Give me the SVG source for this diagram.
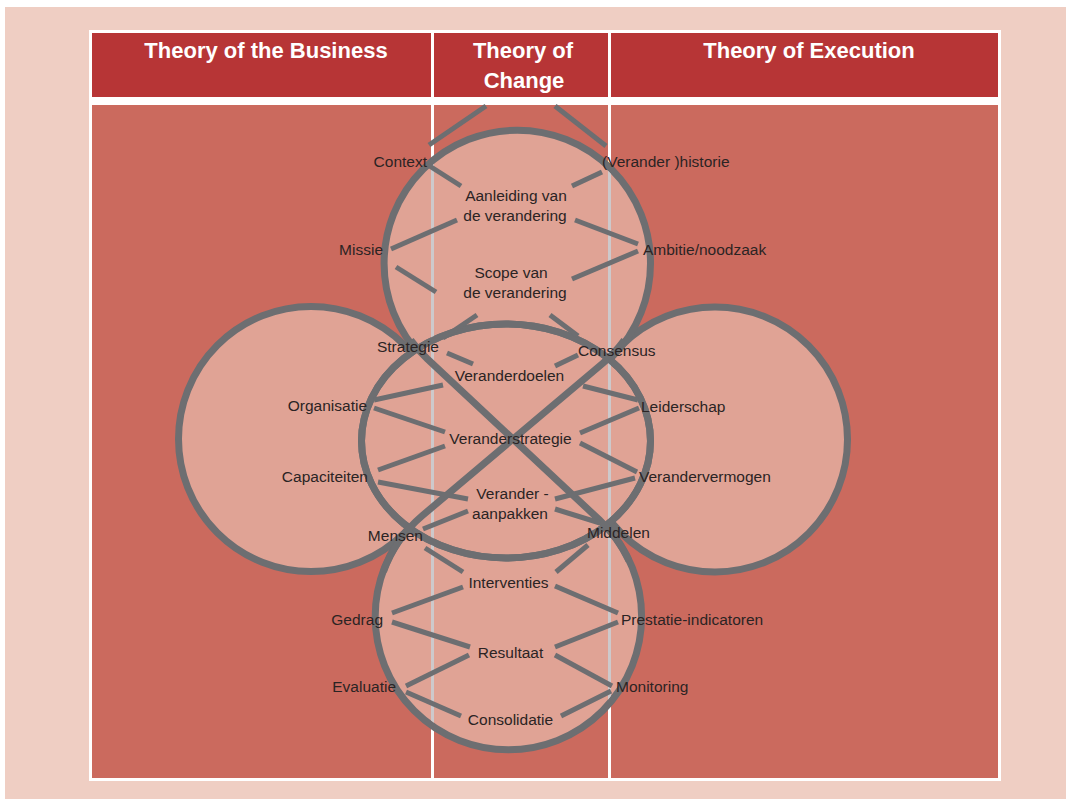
<svg xmlns="http://www.w3.org/2000/svg" width="1071" height="799" viewBox="0 0 1071 799">
<style>
.hd{font-family:"Liberation Sans",Arial,sans-serif;font-weight:bold;font-size:22px;fill:#ffffff;text-anchor:middle}
.lb{font-family:"Liberation Sans",Arial,sans-serif;font-size:15.5px;fill:#2b2424}
.l{text-anchor:end}
.m{text-anchor:middle}
.r{text-anchor:start}
.shape{fill:#e0a395;stroke:#6d6e71;stroke-width:7}
.ring{fill:none;stroke:#6d6e71;stroke-width:7}
.x{fill:none;stroke:#6d6e71;stroke-width:7}
.c{stroke:#6d6e71;stroke-width:5;fill:none}
.div{stroke:#cdc9cb;stroke-width:3}
</style>
<defs>
<clipPath id="inner">
<circle cx="311" cy="439" r="129"/>
<circle cx="715" cy="439.5" r="129"/>
<circle cx="508.4" cy="616.6" r="129.7"/>
<circle cx="517.3" cy="263.4" r="129.7"/>
<ellipse cx="506" cy="441" rx="141" ry="113.5"/>
</clipPath>
</defs>
<rect x="0" y="0" width="1071" height="799" fill="#ffffff"/>
<rect x="5" y="7" width="1061" height="792" fill="#efcec3"/>
<rect x="89" y="30" width="912" height="751" fill="#ffffff"/>
<g id="header">
<rect x="92" y="33" width="339" height="64" fill="#b73536"/>
<rect x="434" y="33" width="174" height="64" fill="#b73536"/>
<rect x="611" y="33" width="387" height="64" fill="#b73536"/>
<text class="hd" x="266" y="58">Theory of the Business</text>
<text class="hd" x="523" y="58">Theory of</text>
<text class="hd" x="524" y="88">Change</text>
<text class="hd" x="809" y="58">Theory of Execution</text>
</g>
<g id="body">
<rect x="92" y="105" width="339" height="673" fill="#cb6a5e"/>
<rect x="434" y="105" width="174" height="673" fill="#cb6a5e"/>
<rect x="611" y="105" width="387" height="673" fill="#cb6a5e"/>
</g>
<g id="circles">
<circle id="left-circle" class="shape" cx="311" cy="439" r="132.5"/>
<circle id="right-circle" class="shape" cx="715" cy="439.5" r="132.5"/>
<circle id="bottom-circle" class="shape" cx="508.4" cy="616.6" r="133.2"/>
<circle id="top-circle" class="shape" cx="517.3" cy="263.4" r="133.2"/>
<ellipse id="center-ellipse" class="shape" cx="506" cy="441" rx="144.5" ry="117"/>
</g>
<g id="dividers" clip-path="url(#inner)">
<line class="div" x1="432.5" y1="105" x2="432.5" y2="778"/>
<line class="div" x1="609.5" y1="105" x2="609.5" y2="778"/>
</g>
<ellipse class="ring" cx="506" cy="441" rx="144.5" ry="117"/>
<g id="crossing">
<path class="x" d="M410.7,340.1 A133.2,133.2 0 0 0 427.3,358.9 L599.4,519.9 A133.2,133.2 0 0 1 629,560.8"/>
<path class="x" d="M624.3,340.1 A133.2,133.2 0 0 1 602.7,363.3 L422.6,515.4 A133.2,133.2 0 0 0 383.5,571.5"/>
</g>
<g id="connectors">
<line class="c" x1="429" y1="145" x2="486" y2="106"/>
<line class="c" x1="555" y1="106" x2="606" y2="146"/>
<line class="c" x1="428" y1="165" x2="461" y2="186"/>
<line class="c" x1="602" y1="172" x2="572" y2="186"/>
<line class="c" x1="391" y1="249" x2="457" y2="220"/>
<line class="c" x1="638" y1="244" x2="575" y2="220"/>
<line class="c" x1="396" y1="267" x2="436" y2="292"/>
<line class="c" x1="638" y1="251" x2="572" y2="279"/>
<line class="c" x1="477" y1="315" x2="443" y2="338"/>
<line class="c" x1="550" y1="315" x2="578" y2="336"/>
<line class="c" x1="447" y1="353" x2="473" y2="364"/>
<line class="c" x1="578" y1="355" x2="555" y2="366"/>
<line class="c" x1="374" y1="400" x2="443" y2="385"/>
<line class="c" x1="374" y1="408" x2="445" y2="432"/>
<line class="c" x1="378" y1="470" x2="445" y2="446"/>
<line class="c" x1="378" y1="482" x2="468" y2="499"/>
<line class="c" x1="423" y1="529" x2="468" y2="511"/>
<line class="c" x1="425" y1="548" x2="463" y2="572"/>
<line class="c" x1="588" y1="545" x2="556" y2="572"/>
<line class="c" x1="583" y1="386" x2="638" y2="400"/>
<line class="c" x1="639" y1="408" x2="580" y2="433"/>
<line class="c" x1="580" y1="443" x2="637" y2="472"/>
<line class="c" x1="635" y1="478" x2="555" y2="499"/>
<line class="c" x1="555" y1="509" x2="600" y2="523"/>
<line class="c" x1="463" y1="587" x2="392" y2="613"/>
<line class="c" x1="555" y1="586" x2="618" y2="613"/>
<line class="c" x1="392" y1="622" x2="470" y2="647"/>
<line class="c" x1="618" y1="622" x2="555" y2="647"/>
<line class="c" x1="406" y1="686" x2="469" y2="655"/>
<line class="c" x1="555" y1="655" x2="612" y2="686"/>
<line class="c" x1="406" y1="692" x2="461" y2="716"/>
<line class="c" x1="611" y1="691" x2="561" y2="716"/>
</g>
<g id="left-labels">
<text class="lb l" x="427" y="167">Context</text>
<text class="lb l" x="383" y="255">Missie</text>
<text class="lb l" x="439" y="352">Strategie</text>
<text class="lb l" x="367" y="411">Organisatie</text>
<text class="lb l" x="368" y="482">Capaciteiten</text>
<text class="lb l" x="423" y="541">Mensen</text>
<text class="lb l" x="383" y="625">Gedrag</text>
<text class="lb l" x="396" y="692">Evaluatie</text>
</g>
<g id="middle-labels">
<text class="lb m" x="516" y="201">Aanleiding van</text>
<text class="lb m" x="515" y="221">de verandering</text>
<text class="lb m" x="511" y="278">Scope van</text>
<text class="lb m" x="515" y="298">de verandering</text>
<text class="lb m" x="509.5" y="381">Veranderdoelen</text>
<text class="lb m" x="510.5" y="444">Veranderstrategie</text>
<text class="lb m" x="512.5" y="499">Verander -</text>
<text class="lb m" x="510" y="519">aanpakken</text>
<text class="lb m" x="508.5" y="588">Interventies</text>
<text class="lb m" x="510.5" y="658">Resultaat</text>
<text class="lb m" x="510.5" y="725">Consolidatie</text>
</g>
<g id="right-labels">
<text class="lb r" x="602" y="167">(Verander )historie</text>
<text class="lb r" x="643" y="255">Ambitie/noodzaak</text>
<text class="lb r" x="578" y="356">Consensus</text>
<text class="lb r" x="641" y="412">Leiderschap</text>
<text class="lb r" x="639" y="482">Verandervermogen</text>
<text class="lb r" x="587" y="538">Middelen</text>
<text class="lb r" x="621" y="625">Prestatie-indicatoren</text>
<text class="lb r" x="616" y="692">Monitoring</text>
</g>
</svg>
